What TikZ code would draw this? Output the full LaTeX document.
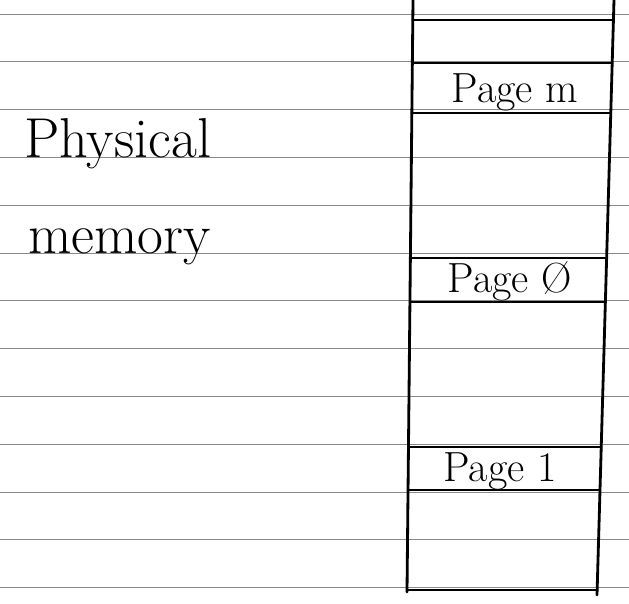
\documentclass[tikz,border=0pt]{standalone}
\usepackage{fontspec}
\usepackage{tikz}
\usepackage{xcolor}
\usetikzlibrary{positioning}
\definecolor{RuleGray}{HTML}{8A8A8A}

\tikzset{
  ruling/.style={RuleGray, line width=0.5pt},
  pen/.style={black, line width=1.6pt, line cap=round, line join=round},
  hand/.style={inner sep=0pt, anchor=base west, font=\fontsize{32}{38}\selectfont},
  pagelabel/.style={inner sep=0pt, anchor=base, font=\fontsize{24}{28}\selectfont}
}

\begin{document}
\begin{tikzpicture}[x=0.02cm, y=-0.02cm]
  \useasboundingbox[fill=white] (0,0) rectangle (629,603);

  % Ruled notebook lines
  \foreach \k in {0,...,12} {
    \draw[ruling] (0,{14+47.8*\k}) -- (629,{14+47.8*\k});
  }

  % Memory column: left and right edges, slightly leaning
  \draw[pen] (413,0) -- (407,592);
  \draw[pen] (614,0) -- (597,595);

  % Frame dividers
  \foreach \y in {20,63,113,258,302,447,490,590} {
    \draw[pen] ({413-0.01*\y},\y) -- ({614-0.029*\y},\y);
  }

  % Page labels inside the frames
  \node[pagelabel] (pagem) at (515,102) {Page m};
  \node[pagelabel] (pagezero) at (510,292) {Page Ø};
  \node[pagelabel] (pageone) at (500,481) {Page 1};

  % Caption on the left
  \node[hand] (physical) at (24,157) {Physical};
  \node[hand] (memory) at (28,253) {memory};
\end{tikzpicture}
\end{document}
